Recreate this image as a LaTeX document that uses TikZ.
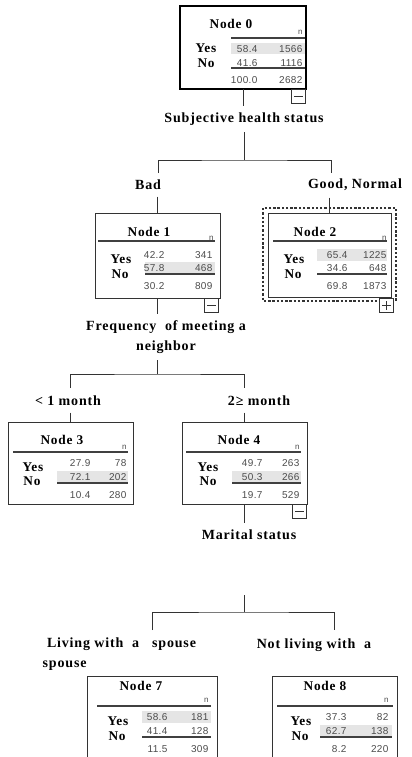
\documentclass[tikz,border=0pt]{standalone}
\usepackage{fontspec}
\setmainfont{Liberation Serif}
\newfontfamily\lblfont[LetterSpace=6]{Liberation Serif}
\newfontfamily\numfont[LetterSpace=4]{Liberation Sans}

\tikzset{every picture/.style={line width=0.75pt}}
\tikzset{
  statbox/.style={draw=black!80, line width=0.6pt, inner sep=0pt, outer sep=0pt, minimum width=93.75pt, minimum height=63pt},
  rootbox/.style={statbox, draw=black, line width=1.5pt},
  nodelbl/.style={font=\lblfont\bfseries\fontsize{10}{12}\selectfont, inner sep=0pt},
  yn/.style={font=\lblfont\bfseries\fontsize{10}{12}\selectfont, anchor=west, inner sep=0pt},
  num/.style={font=\numfont\fontsize{7.5}{9}\selectfont, text=black!70, anchor=east, inner sep=0pt},
  ncol/.style={font=\numfont\fontsize{6}{7}\selectfont, text=black!70, anchor=east, inner sep=0pt},
  shade/.style={fill=black!10},
  rule/.style={draw=black!75, line width=0.9pt},
  branch/.style={font=\lblfont\bfseries\fontsize{10.5}{15}\selectfont, align=center, inner sep=2pt, outer sep=3pt},
  edge/.style={draw=black!80, line width=0.75pt},
  togglebox/.style={draw=black!80, line width=0.6pt, fill=white, minimum size=10.5pt, inner sep=0pt, anchor=north east},
  minusbox/.style={togglebox, path picture={\draw[line width=0.6pt] ([xshift=2pt]path picture bounding box.west) -- ([xshift=-2pt]path picture bounding box.east);}},
  plusbox/.style={togglebox, path picture={\draw[line width=0.6pt] ([xshift=2pt]path picture bounding box.west) -- ([xshift=-2pt]path picture bounding box.east) ([yshift=-2pt]path picture bounding box.north) -- ([yshift=2pt]path picture bounding box.south);}},
  dotbox/.style={draw=black!80, line width=0.9pt, dash pattern=on 1.8pt off 1.4pt}
}

\begin{document}
\begin{tikzpicture}[x=0.75pt,y=0.75pt,yscale=-1,xscale=1]
\clip (0,0) rectangle (411,757);

% Node 0
\node[rootbox, minimum width=94.5pt, minimum height=62.25pt] (n0) at (243,47.5) {};
\node[nodelbl] (t0) at (231,24) {Node 0};
\node[ncol] at (303,32) {n};
\fill[shade] (231,43) rectangle (305,54);
\draw[rule] (231,38) -- (305,38);
\node[yn] at (195,48) {Yes};
\node[yn] at (197,63) {No};
\node[num] at (258,49) {58.4};
\node[num] at (303,49) {1566};
\node[num] at (258,63) {41.6};
\node[num] at (303,63) {1116};
\draw[rule] (231,68) -- (305,68);
\node[num] at (258,80) {100.0};
\node[num] at (303,80) {2682};
\node[minusbox] (m0) at (306,89) {};

% Node 1
\node[statbox, minimum height=63.75pt] (n1) at (157.5,255.5) {};
\node[nodelbl] (t1) at (149,232) {Node 1};
\node[ncol] at (214,238) {n};
\draw[rule] (98,241) -- (215,241);
\node[yn] at (110,259) {Yes};
\node[yn] at (111,274) {No};
\node[num] at (165,255) {42.2};
\node[num] at (213,255) {341};
\fill[shade] (145,262) rectangle (215,274);
\node[num] at (165,268) {57.8};
\node[num] at (213,268) {468};
\draw[rule] (145,274) -- (215,274);
\node[num] at (165,286) {30.2};
\node[num] at (213,286) {809};
\node[minusbox] (m1) at (219,298) {};

% Node 2
\draw[dotbox] (263,208) rectangle (396,301);
\node[statbox, minimum width=92.25pt] (n2) at (329.5,255) {};
\node[nodelbl] (t2) at (315,232) {Node 2};
\node[ncol] at (387,238) {n};
\draw[rule] (273,241) -- (387,241);
\node[yn] at (283,259) {Yes};
\node[yn] at (284,274) {No};
\fill[shade] (317,249) rectangle (387,261);
\node[num] at (348,255) {65.4};
\node[num] at (387,255) {1225};
\node[num] at (348,268) {34.6};
\node[num] at (387,268) {648};
\draw[rule] (317,274) -- (387,274);
\node[num] at (348,286) {69.8};
\node[num] at (387,286) {1873};
\node[plusbox] (p2) at (394,298) {};

% Node 3
\node[statbox, minimum height=61.5pt] (n3) at (70.5,463) {};
\node[nodelbl] (t3) at (62,440) {Node 3};
\node[ncol] at (127,447) {n};
\draw[rule] (13,452) -- (128,452);
\node[yn] at (22,467) {Yes};
\node[yn] at (23,481) {No};
\node[num] at (91,463) {27.9};
\node[num] at (127,463) {78};
\fill[shade] (57,471) rectangle (128,483);
\node[num] at (91,477) {72.1};
\node[num] at (127,477) {202};
\draw[rule] (57,483) -- (128,483);
\node[num] at (91,495) {10.4};
\node[num] at (127,495) {280};

% Node 4
\node[statbox, minimum height=61.5pt] (n4) at (244.5,463) {};
\node[nodelbl] (t4) at (239,440) {Node 4};
\node[ncol] at (300,447) {n};
\draw[rule] (186,452) -- (301,452);
\node[yn] at (197,467) {Yes};
\node[yn] at (199,481) {No};
\node[num] at (263,463) {49.7};
\node[num] at (300,463) {263};
\fill[shade] (232,471) rectangle (301,483);
\node[num] at (263,477) {50.3};
\node[num] at (300,477) {266};
\draw[rule] (232,483) -- (301,483);
\node[num] at (263,495) {19.7};
\node[num] at (300,495) {529};
\node[minusbox] (m4) at (307,504) {};

% Node 7
\node[statbox, minimum width=97.5pt, minimum height=70.5pt] (n7) at (152,723) {};
\node[nodelbl] (t7) at (141,686) {Node 7};
\node[ncol] at (209,700) {n};
\draw[rule] (97,706) -- (211,706);
\node[yn] at (107,721) {Yes};
\node[yn] at (108,736) {No};
\fill[shade] (142,711) rectangle (211,723);
\node[num] at (168,717) {58.6};
\node[num] at (209,717) {181};
\node[num] at (168,731) {41.4};
\node[num] at (209,731) {128};
\draw[rule] (142,737) -- (211,737);
\node[num] at (168,749) {11.5};
\node[num] at (209,749) {309};

% Node 8
\node[statbox, minimum height=70.5pt] (n8) at (334.5,723) {};
\node[nodelbl] (t8) at (325,686) {Node 8};
\node[ncol] at (389,700) {n};
\draw[rule] (277,706) -- (393,706);
\node[yn] at (290,721) {Yes};
\node[yn] at (291,736) {No};
\node[num] at (347,717) {37.3};
\node[num] at (389,717) {82};
\fill[shade] (320,725) rectangle (392,737);
\node[num] at (347,731) {62.7};
\node[num] at (389,731) {138};
\draw[rule] (320,737) -- (392,737);
\node[num] at (347,749) {8.2};
\node[num] at (389,749) {220};

% Split labels
\node[branch] (lSubj) at (244,119) {Subjective health status};
\node[branch] (lBad) at (148,185) {Bad};
\node[branch] (lGood) at (355,185) {Good, Normal};
\node[branch] (lFreq) at (166,337) {Frequency\ \ of meeting a\\neighbor};
\node[branch] (lLt) at (68,401) {< 1 month};
\node[branch] (lGe) at (259,401) {2≥ month};
\node[branch] (lMar) at (249,535) {Marital status};
\node[branch, align=left, anchor=west] (lLiv) at (36,654) {\ Living with\ \ a\ \ \ spouse\\spouse};
\node[branch] (lNot) at (314,645) {Not living with\ \ a};

% Connections
\coordinate (j0) at (244,160);
\coordinate (d1) at (158,173);
\coordinate (d2) at (331,173);
\draw[edge] (n0.south) -- (n0.south |- lSubj.north);
\draw[edge] (lSubj.south) -- (j0);
\draw[edge] (d1) |- (j0) -| (d2);
\draw[edge] (n1.north |- lBad.south) -- (n1.north);
\draw[edge] (n2.north |- lGood.south) -- (n2.north);

\coordinate (j1) at (157.5,374);
\coordinate (d3) at (70.5,388);
\coordinate (d4) at (244.5,388);
\draw[edge] (n1.south) -- (n1.south |- lFreq.north);
\draw[edge] (lFreq.south -| n1.south) -- (j1);
\draw[edge] (d3) |- (j1) -| (d4);
\draw[edge] (n3.north |- lLt.south) -- (n3.north);
\draw[edge] (n4.north |- lGe.south) -- (n4.north);

\coordinate (mtop) at (244,595);
\coordinate (j2) at (244,612);
\coordinate (d5) at (152,630);
\coordinate (d6) at (334.5,630);
\draw[edge] (n4.south) -- (n4.south |- lMar.north);
\draw[edge] (mtop) -- (j2);
\draw[edge] (d5) |- (j2) -| (d6);

\end{tikzpicture}
\end{document}
